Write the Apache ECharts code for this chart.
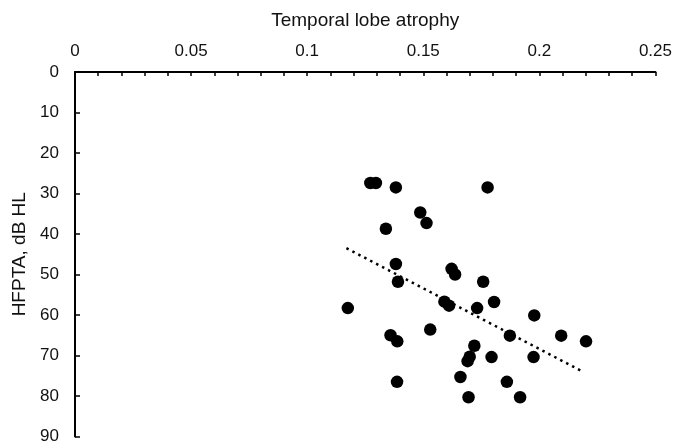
<!DOCTYPE html>
<html><head><meta charset="utf-8">
<script src="https://cdn.jsdelivr.net/npm/echarts@6/dist/echarts.min.js"></script>
<style>html,body{margin:0;padding:0;background:#fff}#c{width:675px;height:445px}</style>
</head><body><div id="c"></div>
<script>
const atrophy = [0.1272,0.1296,0.1382,0.1777,0.1487,0.1514,0.1339,0.1382,0.1622,0.1637,0.1391,0.1758,0.1175,0.1591,0.1611,0.1732,0.1805,0.1978,0.1530,0.1359,0.1388,0.1873,0.2094,0.2201,0.1720,0.1700,0.1691,0.1794,0.1975,0.1660,0.1387,0.1860,0.1695,0.1917];
const hfpta   = [27.4,27.4,28.5,28.5,34.7,37.3,38.7,47.4,48.6,50.0,51.8,51.8,58.3,56.7,57.7,58.3,56.8,60.1,63.6,65.0,66.5,65.1,65.1,66.5,67.6,70.3,71.4,70.4,70.4,75.3,76.5,76.5,80.3,80.3];
const trendX = [0.1169, 0.2184];
const trendY = [43.5, 73.9];
const xTicks = [0, 0.05, 0.1, 0.15, 0.2, 0.25];
const yTicks = [0, 10, 20, 30, 40, 50, 60, 70, 80, 90];

const font = 'Liberation Sans, Arial, Helvetica, sans-serif';
const chart = echarts.init(document.getElementById('c'));
chart.setOption({
  animation: false,
  grid: {left: 75, top: 72, right: 17, bottom: 7, containLabel: false},
  xAxis: {
    type: 'value', position: 'top', min: 0, max: 0.25, interval: 0.05,
    name: 'Temporal lobe atrophy', nameLocation: 'middle', nameGap: 42,
    nameTextStyle: {fontFamily: font, fontSize: 19, color: '#111'},
    axisLine: {show: true, lineStyle: {color: '#000', width: 2}},
    axisTick: {show: true, inside: true, length: 4, lineStyle: {color: '#000', width: 1.5}},
    minorTick: {show: true, splitNumber: 5, length: 4, lineStyle: {color: '#000', width: 1.5}},
    axisLabel: {fontFamily: font, fontSize: 17, color: '#111', margin: 12,
      formatter: v => { const t = xTicks.find(k => Math.abs(k - v) < 1e-9); return t === undefined ? '' : String(t); }},
    splitLine: {show: false}
  },
  yAxis: {
    type: 'value', inverse: true, min: 0, max: 90, interval: 10,
    name: 'HFPTA, dB HL', nameLocation: 'middle', nameGap: 41, nameRotate: 90,
    nameTextStyle: {fontFamily: font, fontSize: 19, color: '#111'},
    axisLine: {show: true, lineStyle: {color: '#000', width: 2}},
    axisTick: {show: true, inside: true, length: 5, lineStyle: {color: '#000', width: 1.5}},
    axisLabel: {fontFamily: font, fontSize: 17, color: '#111', margin: 16,
      formatter: v => { const t = yTicks.find(k => Math.abs(k - v) < 1e-9); return t === undefined ? '' : String(t); }},
    splitLine: {show: false}
  },
  series: [
    {
      type: 'scatter', symbolSize: 12.5,
      itemStyle: {color: '#000', opacity: 1},
      data: atrophy.map((x, i) => [x, hfpta[i]])
    },
    {
      type: 'line', symbol: 'none', silent: true,
      lineStyle: {color: '#000', width: 2.5, type: [2.5, 4.2]},
      data: trendX.map((x, i) => [x, trendY[i]])
    }
  ]
});
</script></body></html>
